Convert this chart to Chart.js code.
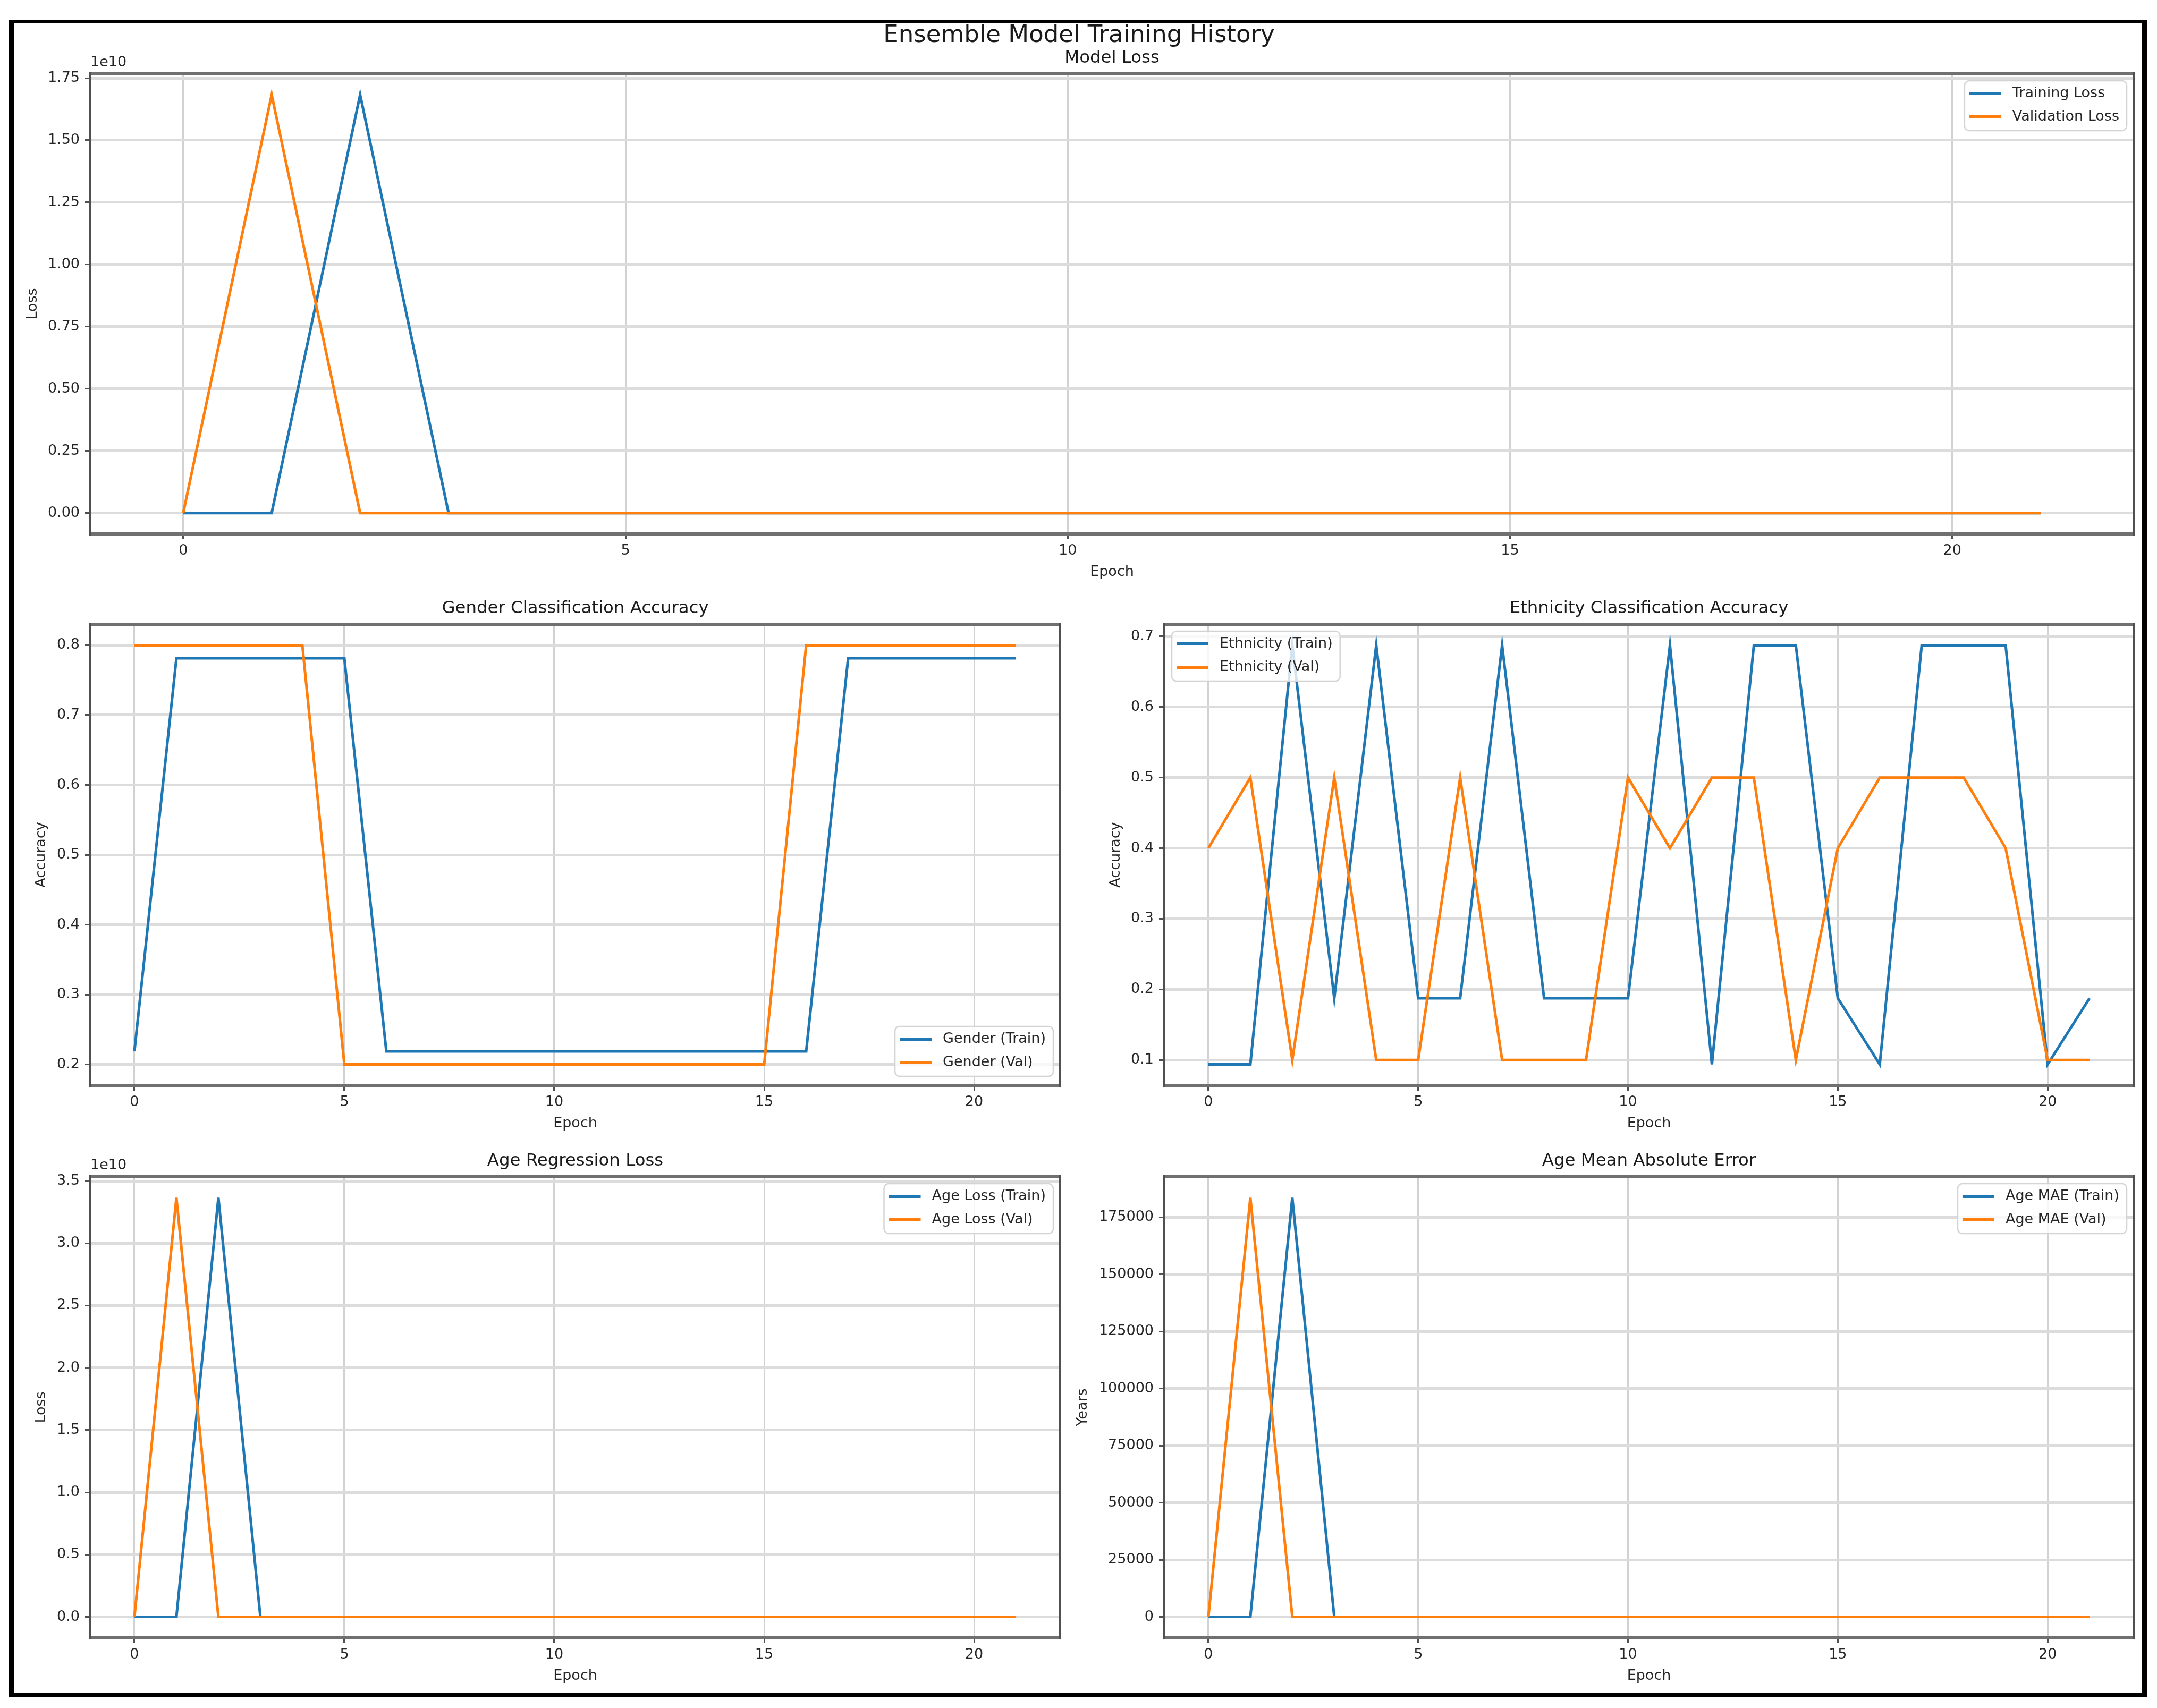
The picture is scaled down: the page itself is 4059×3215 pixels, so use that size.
<!DOCTYPE html>
<html>
<head>
<meta charset="utf-8">
<script src="https://cdn.jsdelivr.net/npm/chart.js@4/dist/chart.umd.min.js"></script>
<style>
  body { margin: 0; background: #fff; width: 4059px; height: 3215px; position: relative; overflow: hidden; }
  #frameBox { position: absolute; left: 17px; top: 37px; width: 4023px; height: 3157px; box-sizing: border-box;
              border-style: solid; border-color: #000; border-width: 7px 9px 8px 9px; }
  canvas { position: absolute; }
</style>
</head>
<body>
<div id="frameBox"></div>
<canvas id="lossChart"></canvas>
<canvas id="genderChart"></canvas>
<canvas id="ethnicityChart"></canvas>
<canvas id="ageLossChart"></canvas>
<canvas id="maeChart"></canvas>
<script>
// epochs 0..21
var epochs = [0, 1, 2, 3, 4, 5, 6, 7, 8, 9, 10, 11, 12, 13, 14, 15, 16, 17, 18, 19, 20, 21];

// Model Loss
var lossTrain = [1250, 1180, 16830000000, 980, 412, 398, 391, 385, 380, 376, 371, 368, 365, 362, 360, 357, 355, 353, 351, 349, 348, 346];
var lossVal = [1210, 16830000000, 905, 405, 396, 389, 383, 378, 374, 370, 367, 364, 361, 359, 356, 354, 352, 350, 349, 347, 346, 344];

// Gender accuracy
var genderTrain = [0.21875, 0.78125, 0.78125, 0.78125, 0.78125, 0.78125, 0.21875, 0.21875, 0.21875, 0.21875, 0.21875,
                   0.21875, 0.21875, 0.21875, 0.21875, 0.21875, 0.21875, 0.78125, 0.78125, 0.78125, 0.78125, 0.78125];
var genderVal = [0.8, 0.8, 0.8, 0.8, 0.8, 0.2, 0.2, 0.2, 0.2, 0.2, 0.2, 0.2, 0.2, 0.2, 0.2, 0.2, 0.8, 0.8, 0.8, 0.8, 0.8, 0.8];

// Ethnicity accuracy
var ethnicityTrain = [0.09375, 0.09375, 0.6875, 0.1875, 0.6875, 0.1875, 0.1875, 0.6875, 0.1875, 0.1875, 0.1875,
                      0.6875, 0.09375, 0.6875, 0.6875, 0.1875, 0.09375, 0.6875, 0.6875, 0.6875, 0.09375, 0.1875];
var ethnicityVal = [0.4, 0.5, 0.1, 0.5, 0.1, 0.1, 0.5, 0.1, 0.1, 0.1, 0.5, 0.4, 0.5, 0.5, 0.1, 0.4, 0.5, 0.5, 0.5, 0.4, 0.1, 0.1];

// Age regression loss
var ageLossTrain = [2480, 2360, 33660000000, 1950, 820, 796, 781, 770, 760, 752, 743, 736, 730, 724, 719, 714, 710, 706, 702, 698, 695, 692];
var ageLossVal = [2420, 33660000000, 1810, 810, 792, 778, 766, 756, 748, 740, 734, 728, 722, 717, 712, 708, 704, 700, 697, 694, 691, 688];

// Age MAE
var maeTrain = [41.2, 40.1, 183500, 35.6, 22.4, 22.0, 21.7, 21.5, 21.3, 21.1, 20.9, 20.8, 20.6, 20.5, 20.4, 20.3, 20.2, 20.1, 20.0, 19.9, 19.8, 19.7];
var maeVal = [40.8, 183500, 33.9, 22.3, 21.9, 21.6, 21.4, 21.2, 21.0, 20.9, 20.7, 20.6, 20.5, 20.4, 20.3, 20.2, 20.1, 20.0, 19.9, 19.8, 19.7, 19.6];

// tick labels
var epochTicks = [0, 5, 10, 15, 20];
var lossTicks = [0, 0.25e10, 0.5e10, 0.75e10, 1e10, 1.25e10, 1.5e10, 1.75e10];
var genderTicks = [0.2, 0.3, 0.4, 0.5, 0.6, 0.7, 0.8];
var ethnicityTicks = [0.1, 0.2, 0.3, 0.4, 0.5, 0.6, 0.7];
var ageLossTicks = [0, 0.5e10, 1e10, 1.5e10, 2e10, 2.5e10, 3e10, 3.5e10];
var maeTicks = [0, 25000, 50000, 75000, 100000, 125000, 150000, 175000];

var BLUE = '#1f77b4';
var ORANGE = '#ff7f0e';
var TEXT = '#262626';

Chart.defaults.font.family = "'DejaVu Sans', sans-serif";
Chart.defaults.font.size = 27;
Chart.defaults.color = TEXT;

// matplotlib-like 5% margin around the data
function autoRange(a, b) {
    var all = a.concat(b);
    var lo = Math.min.apply(null, all), hi = Math.max.apply(null, all);
    var m = (hi - lo) * 0.05;
    return { min: lo - m, max: hi + m };
}

// axes frame + optional offset text (1e10)
var framePlugin = {
    id: 'frame',
    afterDatasetsDraw(chart, args, opts) {
        var ctx = chart.ctx, a = chart.chartArea;
        ctx.save();
        ctx.strokeStyle = '#707070';
        ctx.lineWidth = 6;
        ctx.beginPath();
        ctx.moveTo(a.left, a.top); ctx.lineTo(a.right, a.top);
        ctx.moveTo(a.left, a.bottom); ctx.lineTo(a.right, a.bottom);
        ctx.stroke();
        ctx.strokeStyle = '#505050';
        ctx.lineWidth = 4;
        ctx.beginPath();
        ctx.moveTo(a.left, a.top - 3); ctx.lineTo(a.left, a.bottom + 3);
        ctx.moveTo(a.right, a.top - 3); ctx.lineTo(a.right, a.bottom + 3);
        ctx.stroke();
        if (opts.offsetText) {
            ctx.font = "27px 'DejaVu Sans', sans-serif";
            ctx.fillStyle = TEXT;
            ctx.textBaseline = 'middle';
            ctx.textAlign = 'left';
            ctx.fillText(opts.offsetText, a.left, a.top - 21);
        }
        ctx.restore();
    }
};

// legend drawn inside the axes, like matplotlib's
var insideLegend = {
    id: 'insideLegend',
    afterDraw(chart, args, opts) {
        var ctx = chart.ctx, a = chart.chartArea;
        var sets = chart.data.datasets;
        ctx.save();
        ctx.font = "27px 'DejaVu Sans', sans-serif";
        var textW = Math.max.apply(null, sets.map(d => ctx.measureText(d.label).width));
        var w = 9 + 60 + 21 + textW + 14;
        var h = 24 + 44 * (sets.length - 1) + 26;
        var x = opts.corner.indexOf('r') >= 0 ? a.right - 13 - w : a.left + 14;
        var y = opts.corner.indexOf('b') >= 0 ? a.bottom - 17 - h : a.top + 13;
        ctx.beginPath();
        ctx.roundRect(x, y, w, h, 9);
        ctx.fillStyle = 'rgba(255,255,255,0.8)';
        ctx.fill();
        ctx.strokeStyle = '#d4d4d4';
        ctx.lineWidth = 2.5;
        ctx.stroke();
        sets.forEach((d, i) => {
            var cy = y + 24 + i * 44;
            ctx.strokeStyle = d.borderColor;
            ctx.lineWidth = 6;
            ctx.beginPath();
            ctx.moveTo(x + 9, cy);
            ctx.lineTo(x + 69, cy);
            ctx.stroke();
            ctx.fillStyle = TEXT;
            ctx.textBaseline = 'middle';
            ctx.textAlign = 'left';
            ctx.fillText(d.label, x + 90, cy);
        });
        ctx.restore();
    }
};

function series(label, data, color, order) {
    return {
        label: label, data: data, borderColor: color, backgroundColor: color,
        borderWidth: 5, pointRadius: 0, tension: 0, fill: false, order: order,
        xAxisID: 'x', yAxisID: 'y'
    };
}

function plotHistory(id, place, o) {
    var canvas = document.getElementById(id);
    canvas.width = place.right + 6 - place.left;
    canvas.height = place.bottom + 88 - place.top;
    canvas.style.left = place.left + 'px';
    canvas.style.top = place.top + 'px';
    var yr = autoRange(o.train, o.val);

    new Chart(canvas, {
        type: 'line',
        data: {
            labels: epochs,
            datasets: [
                series(o.labels[0], o.train, BLUE, 1),
                series(o.labels[1], o.val, ORANGE, 0)
            ]
        },
        options: {
            responsive: false,
            animation: false,
            events: [],
            layout: { padding: { left: 0, top: 0, right: 6, bottom: 0 } },
            plugins: {
                legend: { display: false },
                tooltip: { enabled: false },
                title: o.suptitle ? {
                    display: true, text: o.suptitle, padding: 0, color: '#1a1a1a',
                    font: { size: 45, weight: 'normal', lineHeight: 1.0 }
                } : { display: false },
                frame: { offsetText: o.offsetText || '' },
                insideLegend: { corner: o.corner }
            },
            scales: {
                x: {
                    type: 'linear', min: -1.05, max: 22.05, bounds: 'data',
                    afterBuildTicks: s => { s.ticks = epochTicks.map(v => ({ value: v })); },
                    afterFit: s => { s.height = 88; },
                    ticks: { padding: 6, autoSkip: false, maxRotation: 0, callback: v => String(v) },
                    grid: { color: '#d2d2d2', lineWidth: 3, tickColor: '#505050', tickWidth: 3, tickLength: 10 },
                    border: { display: false },
                    title: { display: true, text: 'Epoch', padding: 0 }
                },
                xTop: {
                    type: 'linear', position: 'top', min: 0, max: 1,
                    ticks: { display: false },
                    grid: { display: false, drawTicks: false },
                    border: { display: false },
                    afterFit: s => { s.height = 49; },
                    title: { display: true, text: o.title, padding: 0, color: '#1a1a1a', font: { size: 32.4 } }
                },
                y: {
                    type: 'linear', min: yr.min, max: yr.max, bounds: 'data',
                    afterBuildTicks: s => { s.ticks = o.ticks.map(v => ({ value: v })); },
                    afterFit: s => { s.width = place.plotLeft - place.left; },
                    ticks: { padding: 10, autoSkip: false, callback: o.format },
                    grid: { color: '#dcdcdc', lineWidth: 5, tickColor: '#505050', tickWidth: 3, tickLength: 10 },
                    border: { display: false },
                    title: { display: true, text: o.yTitle, padding: 0 }
                }
            }
        },
        plugins: [framePlugin, insideLegend]
    });
}

plotHistory('lossChart', { left: 46, top: 45, plotLeft: 170, right: 4015, bottom: 1005 }, {
    suptitle: 'Ensemble Model Training History', title: 'Model Loss', yTitle: 'Loss',
    train: lossTrain, val: lossVal, labels: ['Training Loss', 'Validation Loss'],
    ticks: lossTicks, format: v => (v / 1e10).toFixed(2), offsetText: '1e10', corner: 'tr'
});

plotHistory('genderChart', { left: 62, top: 1126, plotLeft: 170, right: 1995, bottom: 2043 }, {
    title: 'Gender Classification Accuracy', yTitle: 'Accuracy',
    train: genderTrain, val: genderVal, labels: ['Gender (Train)', 'Gender (Val)'],
    ticks: genderTicks, format: v => v.toFixed(1), corner: 'br'
});

plotHistory('ethnicityChart', { left: 2084, top: 1126, plotLeft: 2191, right: 4015, bottom: 2043 }, {
    title: 'Ethnicity Classification Accuracy', yTitle: 'Accuracy',
    train: ethnicityTrain, val: ethnicityVal, labels: ['Ethnicity (Train)', 'Ethnicity (Val)'],
    ticks: ethnicityTicks, format: v => v.toFixed(1), corner: 'tl'
});

plotHistory('ageLossChart', { left: 62, top: 2166, plotLeft: 170, right: 1995, bottom: 3083 }, {
    title: 'Age Regression Loss', yTitle: 'Loss',
    train: ageLossTrain, val: ageLossVal, labels: ['Age Loss (Train)', 'Age Loss (Val)'],
    ticks: ageLossTicks, format: v => (v / 1e10).toFixed(1), offsetText: '1e10', corner: 'tr'
});

plotHistory('maeChart', { left: 2022, top: 2166, plotLeft: 2191, right: 4015, bottom: 3083 }, {
    title: 'Age Mean Absolute Error', yTitle: 'Years',
    train: maeTrain, val: maeVal, labels: ['Age MAE (Train)', 'Age MAE (Val)'],
    ticks: maeTicks, format: v => String(v), corner: 'tr'
});
</script>
</body>
</html>
